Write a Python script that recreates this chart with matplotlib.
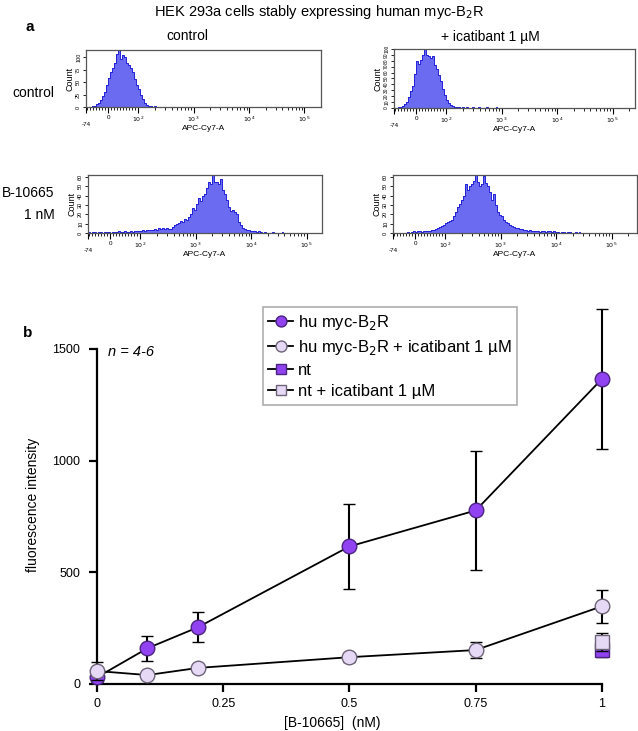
import numpy as np
import matplotlib
matplotlib.use("Agg")
import matplotlib.pyplot as plt

# ---- panel a: flow cytometry histograms (counts per 2-channel bin) ----
hist_tl = [0, 0, 1, 2, 3, 6, 9, 14, 22, 30, 44, 58, 70, 78, 88, 106, 114, 96, 104, 100,
           88, 84, 78, 70, 56, 44, 36, 24, 16, 8, 5, 3, 2, 1, 2, 1, 0, 1, 0, 1,
           0, 0, 1, 0, 0, 0, 1, 0, 0, 0, 0, 1, 0, 0, 0, 0, 0, 1, 0, 0, 0, 0, 0, 0, 1]
hist_tr = [0, 0, 1, 2, 4, 6, 10, 18, 28, 38, 58, 80, 74, 82, 90, 100, 90, 88, 84, 88,
           72, 66, 56, 46, 33, 22, 14, 8, 5, 3, 2, 1, 1, 0, 1, 0, 1, 0, 0, 1,
           0, 0, 1, 0, 0, 0, 1, 0, 0, 0, 0, 1]
hist_bl = [1, 0, 1, 1, 0, 1, 1, 0, 1, 1, 1, 0, 1, 1, 1, 2, 1, 1, 2, 1,
           1, 2, 1, 2, 2, 2, 2, 3, 2, 3, 3, 3, 3, 4, 3, 5, 4, 5, 4, 5,
           4, 4, 6, 9, 10, 11, 13, 12, 15, 14, 17, 20, 27, 25, 31, 37, 34, 40, 42, 48,
           54, 52, 62, 55, 54, 52, 58, 46, 42, 35, 28, 24, 25, 22, 20, 12, 9, 5, 4, 3,
           3, 2, 2, 2, 1, 2, 1, 0, 1, 0, 0, 0, 1, 0, 0, 0, 0, 1]
hist_br = [0, 0, 0, 0, 0, 0, 0, 1, 0, 1, 2, 1, 2, 2, 1, 2, 2, 2, 2, 3,
           3, 4, 5, 6, 7, 9, 11, 12, 13, 14, 18, 22, 28, 31, 35, 40, 52, 46, 50, 52,
           56, 62, 54, 50, 52, 61, 53, 50, 44, 35, 42, 30, 22, 19, 18, 14, 12, 11, 8, 7,
           6, 5, 5, 4, 4, 3, 3, 2, 3, 2, 2, 2, 2, 1, 2, 2, 1, 2, 2, 1,
           2, 1, 1, 0, 1, 1, 0, 1, 1, 0, 0, 1, 0, 1]

major_vals = [-74, 0, 100, 1000, 10000, 100000]
major_labels = ["", "0", "$10^2$", "$10^3$", "$10^4$", "$10^5$"]

# ---- panel b: fluorescence intensity ----
conc = [0, 0.1, 0.2, 0.5, 0.75, 1]
hu_mean = [30, 160, 254, 616, 777, 1366]
hu_err = [20, 55, 67, 190, 265, 315]
hu_ica_mean = [58, 40, 72, 120, 152, 348]
hu_ica_err = [40, 10, 10, 20, 35, 75]
nt_x = [1]
nt_mean = [150]
nt_err = [30]
nt_ica_mean = [188]
nt_ica_err = [40]


def pos(v):
    # display channel of the biexponential-like FACS axis
    v = np.asarray(v, dtype=float)
    return np.where(v >= 100, 52 + (np.log10(np.maximum(v, 1)) - 2) * 55.5, 22 + v * 0.30)


fig = plt.figure(figsize=(6.38, 7.31), dpi=100)
plt.rcParams['font.family'] = ['Liberation Sans', 'DejaVu Sans']

fill_c = '#6b6bf2'
line_c = '#2222d8'

panels = [
    (hist_tl, [0.1348, 0.8536, 0.3683, 0.078], [0, 25, 50, 75, 100], 114, 235),
    (hist_tr, [0.6176, 0.8523, 0.3777, 0.0807], list(range(0, 101, 10)), 100, 241),
    (hist_bl, [0.1379, 0.6813, 0.3668, 0.0793], list(range(0, 61, 10)), 62, 234),
    (hist_br, [0.6160, 0.6813, 0.3824, 0.0793], list(range(0, 61, 10)), 62, 244),
]

minor_vals = (list(range(-70, 100, 10)) + [200, 300, 400, 500, 600, 700, 800, 900]
              + [2000, 3000, 4000, 5000, 6000, 7000, 8000, 9000]
              + [20000, 30000, 40000, 50000, 60000, 70000, 80000, 90000, 200000])

for counts, rect, yt, ymax, wpx in panels:
    ax = fig.add_axes(rect)
    ch = np.arange(len(counts)) * 2 + 1
    ax.fill_between(ch, counts, step='mid', color=fill_c, lw=0)
    ax.step(ch, counts, where='mid', color=line_c, lw=0.7)
    ax.set_xlim(float(pos(-74)), wpx)
    ax.set_ylim(0, ymax)
    ax.set_xticks(pos(major_vals))
    ax.set_xticklabels(major_labels, fontsize=4.5)
    mv = [m for m in minor_vals if pos(m) < wpx]
    ax.set_xticks(pos(mv), minor=True)
    ax.tick_params(axis='x', which='major', length=4, width=0.8, pad=1.5)
    ax.tick_params(axis='x', which='minor', length=2.5, width=0.6)
    ax.set_yticks(yt)
    ax.set_yticklabels([str(t) for t in yt], fontsize=4 if len(yt) < 9 else 3.5,
                       rotation=90, va='center')
    ax.tick_params(axis='y', length=2.5, width=0.6, pad=1)
    ax.text(float(pos(-74)), -0.3, "-74", transform=ax.get_xaxis_transform(),
            fontsize=4.5, ha='center', va='center')
    ax.set_xlabel("APC-Cy7-A", fontsize=6, labelpad=1)
    ax.set_ylabel("Count", fontsize=6.5, labelpad=1)
    for s in ax.spines.values():
        s.set_color('#555555')
        s.set_linewidth(0.9)

fig.text(0.5, 0.9836, "HEK 293a cells stably expressing human myc-B$_2$R",
         ha='center', va='center', fontsize=10.5)
fig.text(0.047, 0.963, "a", fontsize=11, fontweight='bold', ha='center', va='center')
fig.text(0.293, 0.951, "control", fontsize=10, ha='center', va='center')
fig.text(0.768, 0.949, "+ icatibant 1 \u00b5M", fontsize=10, ha='center', va='center')
fig.text(0.052, 0.873, "control", fontsize=10, ha='center', va='center')
fig.text(0.086, 0.736, "B-10665", fontsize=10, ha='right', va='center')
fig.text(0.086, 0.706, "1 nM", fontsize=10, ha='right', va='center')
fig.text(0.044, 0.544, "b", fontsize=11, fontweight='bold', ha='center', va='center')

# ---- panel b ----
dark = '#9143f2'
dark_edge = '#4b2580'
light = '#e6d9f6'
light_edge = '#6e6478'

ax = fig.add_axes([0.152, 0.0643, 0.7915, 0.4583])
eb_kw = dict(color='black', lw=1.3, elinewidth=1.5, capsize=4, capthick=1.5,
             mew=1, clip_on=False)
ax.errorbar(conc, hu_mean, yerr=hu_err, marker='o', ms=10.5, mfc=dark, mec=dark_edge,
            zorder=3, label="hu myc-B$_2$R", **eb_kw)
ax.errorbar(conc, hu_ica_mean, yerr=hu_ica_err, marker='o', ms=10.5, mfc=light,
            mec=light_edge, zorder=4, label="hu myc-B$_2$R + icatibant 1 \u00b5M", **eb_kw)
ax.errorbar(nt_x, nt_mean, yerr=nt_err, marker='s', ms=10, mfc=dark, mec=dark_edge,
            zorder=3, label="nt", **eb_kw)
ax.errorbar(nt_x, nt_ica_mean, yerr=nt_ica_err, marker='s', ms=10, mfc=light,
            mec=light_edge, zorder=4, label="nt + icatibant 1 \u00b5M", **eb_kw)

ax.set_xlim(0, 1)
ax.set_ylim(0, 1500)
ax.set_xticks([0, 0.25, 0.5, 0.75, 1])
ax.set_xticklabels(["0", "0.25", "0.5", "0.75", "1"])
ax.set_yticks([0, 500, 1000, 1500])
ax.spines['top'].set_visible(False)
ax.spines['right'].set_visible(False)
ax.spines['left'].set_linewidth(1.6)
ax.spines['bottom'].set_linewidth(1.6)
ax.tick_params(length=6, width=1.6, labelsize=9)
ax.tick_params(axis='x', pad=4)
ax.tick_params(axis='y', pad=6)
ax.text(0.022, 1487, "n = 4-6", fontsize=10.5, style='italic', ha='left', va='center')

handles, labels = ax.get_legend_handles_labels()
handles = [h[0] for h in handles]
leg = ax.legend(handles, labels, loc='upper left', bbox_to_anchor=(0.328, 1.125),
                fontsize=12, frameon=True, fancybox=False, edgecolor='#999999',
                handlelength=1.5, handletextpad=0.25, labelspacing=0.36,
                borderpad=0.35, borderaxespad=0, markerscale=0.75)
leg.get_frame().set_linewidth(1.2)

fig.text(0.52, 0.011, "[B-10665]  (nM)", fontsize=10, ha='center', va='center')
fig.text(0.052, 0.309, "fluorescence intensity", fontsize=10, rotation=90,
         ha='center', va='center')

fig.savefig("out.png", dpi=100)
